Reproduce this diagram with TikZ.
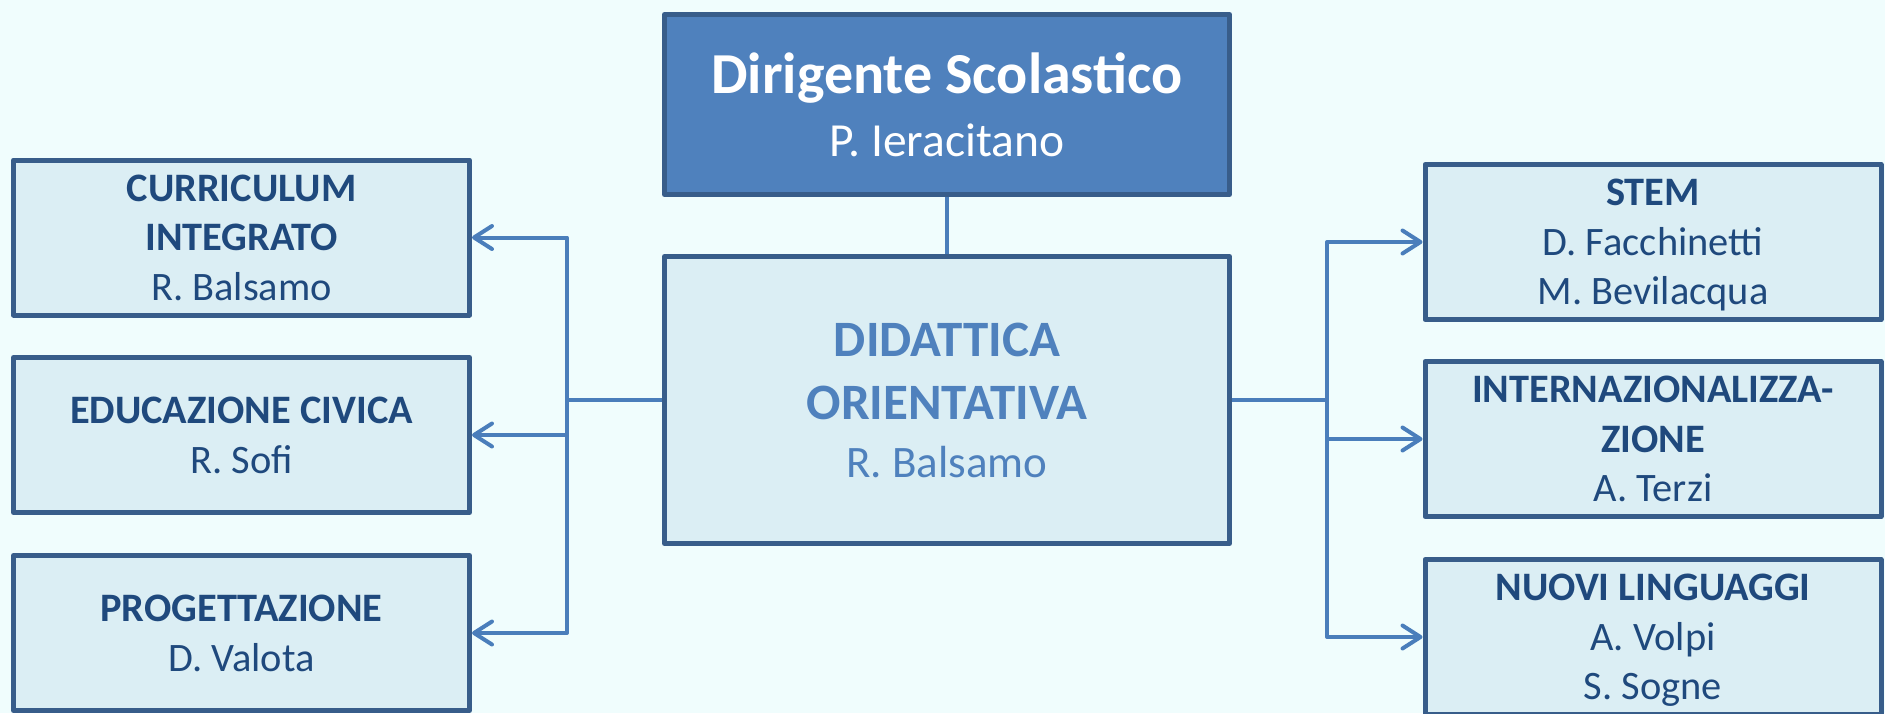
\documentclass[tikz,border=0pt]{standalone}
\usepackage{fontspec}
\setmainfont{Carlito}
\usetikzlibrary{arrows.meta}
\definecolor{bgc}{RGB}{240,253,253}
\definecolor{boxfill}{RGB}{219,238,244}
\definecolor{boxline}{RGB}{56,93,138}
\definecolor{topfill}{RGB}{79,129,189}
\definecolor{txtdark}{RGB}{31,73,125}
\definecolor{conncol}{RGB}{74,126,187}
\begin{document}
\begin{tikzpicture}[x=0.5pt,y=-0.5pt,
  boxbase/.style={draw=boxline, line width=2.5pt, rectangle, inner sep=0pt, align=center, text depth=0pt, line join=round},
  sidebox/.style={boxbase, fill=boxfill, text=txtdark, minimum width=228pt, minimum height=77.5pt, font=\fontsize{20.2}{24.75}\selectfont},
  topbox/.style={boxbase, fill=topfill, text=white, minimum width=282.5pt, minimum height=90pt, font=\fontsize{23.75}{31.7}\selectfont},
  midbox/.style={boxbase, fill=boxfill, text=topfill, minimum width=282.5pt, minimum height=143.5pt, font=\fontsize{22.5}{31.5}\selectfont},
  conn/.style={draw=conncol, line width=2pt, line join=round},
  tipb/.tip={Straight Barb[length=9pt,width=11.5pt,round]},
  arr/.style={conn, -tipb}
]
\fill[bgc] (0,0) rectangle (1885,713);
\useasboundingbox (0,0) rectangle (1885,713);
\clip (0,0) rectangle (1885,713);

\node[topbox] (dir) at (947,104.5) {{\bfseries\fontsize{29}{31.7}\selectfont Dirigente Scolastico}\\P. Ieracitano};
\node[midbox] (did) at (947,400) {{\bfseries\fontsize{25.5}{31.5}\selectfont DIDATTICA}\\{\bfseries\fontsize{25.5}{31.5}\selectfont ORIENTATIVA}\\[-2.7pt]R. Balsamo};

\node[sidebox] (cur) at (241.5,237.5) {{\bfseries CURRICULUM}\\{\bfseries INTEGRATO}\\R. Balsamo};
\node[sidebox] (edu) at (241.5,435) {{\bfseries EDUCAZIONE CIVICA}\\R. Sofi};
\node[sidebox] (pro) at (241.5,633) {{\bfseries PROGETTAZIONE}\\D. Valota};

\node[sidebox] (stem) at (1653,242) {{\bfseries STEM}\\D. Facchinetti\\M. Bevilacqua};
\node[sidebox] (int) at (1653,439) {{\bfseries INTERNAZIONALIZZA-}\\{\bfseries ZIONE}\\A. Terzi};
\node[sidebox] (nuo) at (1653,637) {{\bfseries NUOVI LINGUAGGI}\\A. Volpi\\S. Sogne};

\coordinate (lj) at (567,400);
\coordinate (rj) at (1327,400);

\draw[conn] (dir.south) -- (did.north);

\draw[conn] (did.west) -- (did.west -| lj);
\draw[conn, tipb-tipb] (cur.east) -- (lj |- cur.east) -- (lj |- pro.east) -- (pro.east);
\draw[arr] (lj |- edu.east) -- (edu.east);

\draw[conn] (did.east) -- (did.east -| rj);
\draw[conn, tipb-tipb] (stem.west) -- (rj |- stem.west) -- (rj |- nuo.west) -- (nuo.west);
\draw[arr] (rj |- int.west) -- (int.west);
\end{tikzpicture}
\end{document}
